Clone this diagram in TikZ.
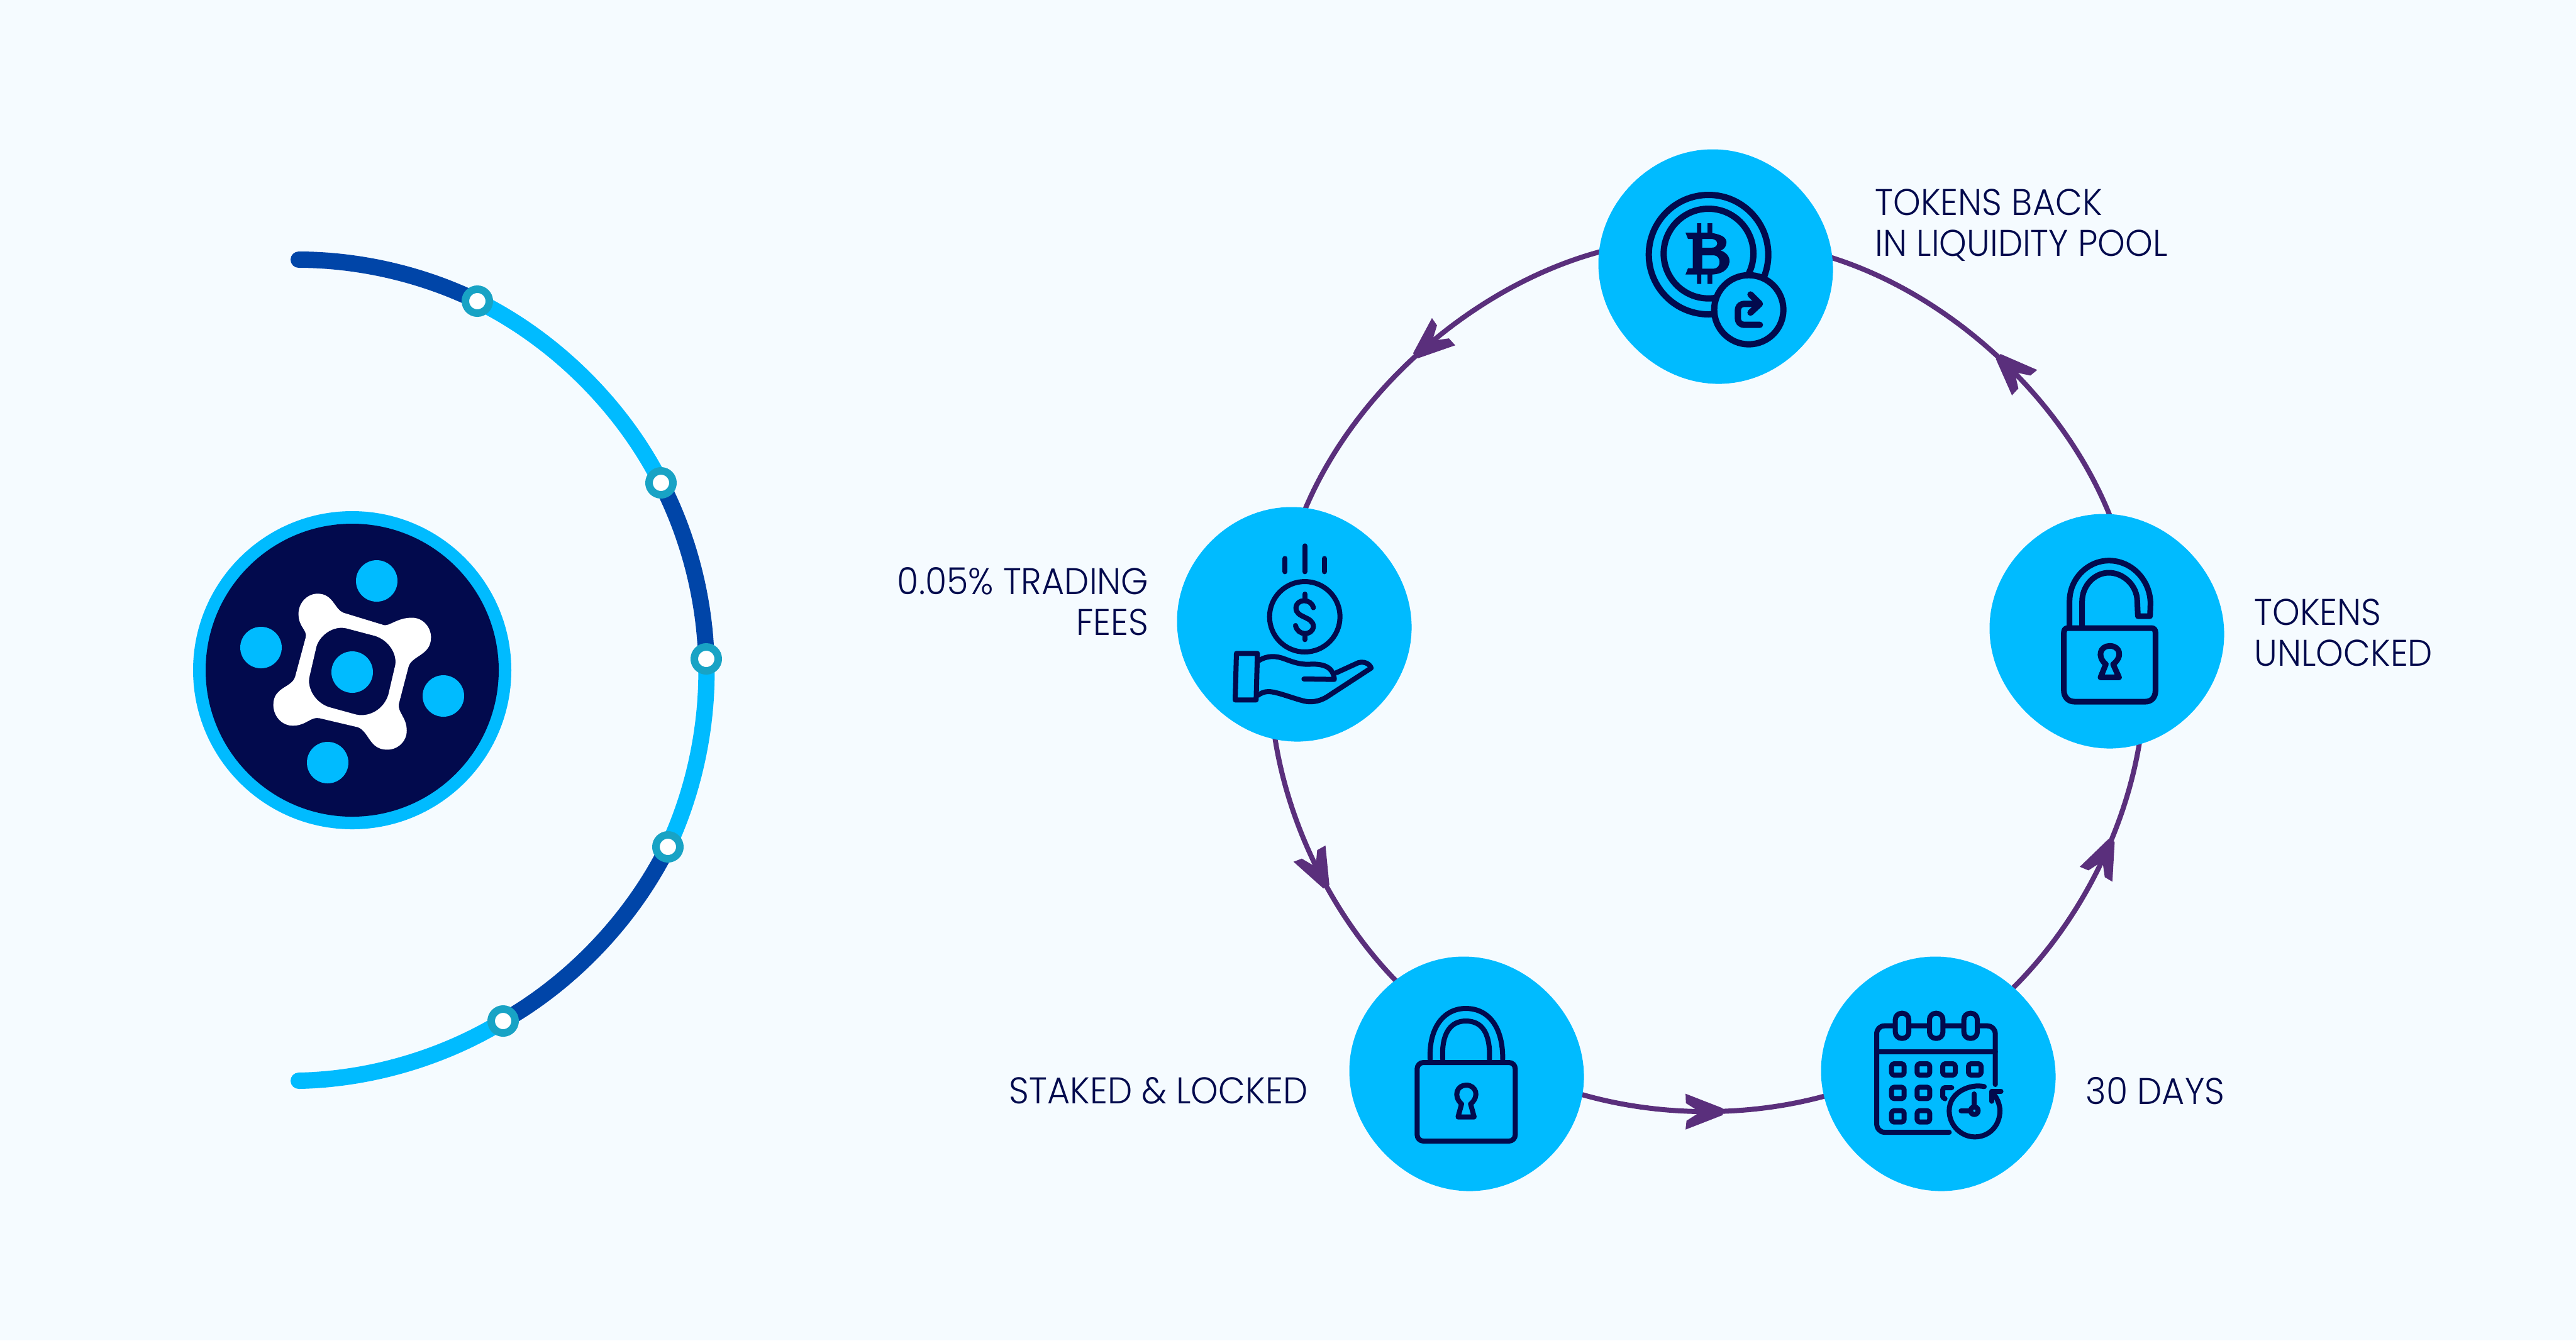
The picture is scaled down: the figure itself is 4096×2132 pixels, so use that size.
\documentclass[tikz,border=0pt]{standalone}
\usepackage{fontspec}
\setmainfont{Poppins}[UprightFont=* Light,FakeStretch=0.94]
\usepackage{xcolor}
\usetikzlibrary{decorations.markings,backgrounds,calc}
\definecolor{bgc}{HTML}{F5FBFF}
\definecolor{skyc}{HTML}{00BBFF}
\definecolor{navyc}{HTML}{020A4D}
\definecolor{deepc}{HTML}{0045A8}
\definecolor{ringc}{HTML}{18A3C5}
\definecolor{linec}{HTML}{5A2F7C}
\tikzset{
  pinnode/.style={circle,draw=ringc,fill=white,line width=0.12cm,minimum size=0.38cm,inner sep=0pt},
  blobnode/.style={circle,minimum size=3.6cm,inner sep=0pt,outer sep=0pt},
  rimdark/.style={line width=0.26cm,draw=deepc},
  rimsky/.style={line width=0.26cm,draw=skyc},
  looplink/.style={line width=0.08cm,draw=linec,looseness=0.85},
  icon/.style={draw=navyc,line width=0.1cm,line cap=round,line join=round},
  caption/.style={font=\fontsize{16.8}{18.5}\selectfont,text=navyc,inner sep=0pt},
  tipat/.style={decoration={markings,mark=at position #1 with {
    \fill[linec] (0,-5) -- (-58,-30) -- (-58,-15) -- (-36,0) -- (-58,13) -- (-60,27) -- (0,6) -- cycle;}},
    postaction={decorate}},
}
\newcommand{\blobat}[1]{\fill[skyc,shift={(#1)}] plot[domain=0:360,samples=121] ({(185.5+cos(4*\x)+2.5*sin(2*\x))*cos(\x)},{(185.5+cos(4*\x)+2.5*sin(2*\x))*sin(\x)}) -- cycle;}
\begin{document}
\begin{tikzpicture}[x=0.01cm,y=-0.01cm,line join=round]
  \useasboundingbox (0,0) rectangle (4096,2132);
  \begin{pgfonlayer}{background}
    \fill[bgc] (0,0) rectangle (4096,2132);
  \end{pgfonlayer}
  % logo
  \fill[skyc] (560,1066) circle (253);
  \fill[navyc] (560,1066) circle (233);
  \begin{scope}[shift={(280,780)},scale=1/2.8]
    \fill[white,even odd rule] (745,545) -- (925,600) .. controls (950,606) and (985,567) .. (1050,567)
      .. controls (1100,567) and (1135,610) .. (1135,655) .. controls (1135,735) and (1050,735) .. (1035,785)
      -- (992,950) .. controls (985,990) and (1027,1010) .. (1027,1070) .. controls (1027,1120) and (985,1155) .. (940,1155)
      .. controls (860,1155) and (860,1075) .. (810,1055) -- (640,1015) .. controls (600,1005) and (580,1048) .. (520,1048)
      .. controls (470,1048) and (433,1005) .. (433,955) .. controls (433,875) and (515,880) .. (530,830)
      -- (577,655) .. controls (585,620) and (545,610) .. (545,550) .. controls (545,500) and (585,460) .. (630,460)
      .. controls (700,460) and (705,530) .. (745,545) -- cycle
      (760,615) -- (885,648) .. controls (950,668) and (990,735) .. (973,790) -- (945,910)
      .. controls (925,975) and (860,1012) .. (800,998) -- (680,965) .. controls (620,945) and (580,880) .. (595,825)
      -- (625,695) .. controls (640,645) and (700,600) .. (760,615) -- cycle;
  \end{scope}
  \foreach \dx/\dy in {599/924,415/1030,705/1107,521/1213,560/1069}
    \fill[skyc] (\dx,\dy) circle (33);
  % outer rim
  \coordinate (R0) at (475,413);
  \coordinate (R6) at (475,1719);
  \node[pinnode] (R1) at (759,479) {};
  \node[pinnode] (R2) at (1051,768) {};
  \node[pinnode] (R3) at (1123,1048) {};
  \node[pinnode] (R4) at (1062,1347) {};
  \node[pinnode] (R5) at (800,1624) {};
  \begin{pgfonlayer}{background}
    \draw[rimdark,line cap=round] (R0) to[bend left=13,looseness=0.85] (R1.center);
    \draw[rimsky] (R1.center) to[bend left=18.5,looseness=0.85] (R2.center);
    \draw[rimdark] (R2.center) to[bend left=12.8,looseness=0.85] (R3.center);
    \draw[rimsky] (R3.center) to[bend left=13.5,looseness=0.85] (R4.center);
    \draw[rimdark] (R4.center) to[bend left=17,looseness=0.85] (R5.center);
    \draw[rimsky,line cap=round] (R5.center) to[bend left=15.2,looseness=0.85] (R6);
  \end{pgfonlayer}
  % ring of steps
  \node[blobnode] (Pool) at (2728,424) {};
  \node[blobnode] (Fees) at (2058,993) {};
  \node[blobnode] (Staked) at (2332,1708) {};
  \node[blobnode] (Days) at (3082,1708) {};
  \node[blobnode] (Unlock) at (3350,1004) {};
  \draw[looplink,tipat=0.53] (Pool.172) to[bend right=26.5] (Fees.85);
  \draw[looplink,tipat=0.57] (Fees.260) to[bend right=18] (Staked.127);
  \draw[looplink,tipat=0.58] (Staked.350) to[bend right=16] (Days.191);
  \draw[looplink,tipat=0.63] (Days.49) to[bend right=18.2] (Unlock.287);
  \draw[looplink,tipat=0.5] (Unlock.88) to[bend right=25.8] (Pool.5);
  \blobat{2728,424}
  \blobat{2058,993}
  \blobat{2332,1708}
  \blobat{3082,1708}
  \blobat{3350,1004}
  % coin icon
  \begin{scope}[shift={(2500,200)},scale=1/3]
    \draw[icon] (650,615) circle (285);
    \draw[icon] (650,610) circle (214);
    \draw[icon,fill=skyc] (842,878) circle (165);
    \fill[navyc,even odd rule] (540,510) -- (595,510) -- (595,465) -- (615,465) -- (615,510) -- (645,510) -- (645,465) -- (668,465) -- (668,512)
      .. controls (715,520) and (738,535) .. (735,560) .. controls (733,580) and (722,590) .. (708,595)
      .. controls (735,605) and (752,625) .. (750,650) .. controls (745,690) and (710,708) .. (668,710)
      -- (668,755) -- (645,755) -- (645,710) -- (615,710) -- (615,755) -- (595,755) -- (595,710) -- (540,710) -- (552,680) -- (575,680) -- (575,540) -- (552,540) -- cycle
      (620,540) -- (665,540) .. controls (700,542) and (700,582) .. (665,582) -- (620,582) -- cycle
      (620,618) -- (675,618) .. controls (712,620) and (712,680) .. (675,682) -- (620,682) -- cycle;
    \draw[icon] (895,950) -- (825,950) .. controls (800,950) and (790,940) .. (790,915) -- (790,885) .. controls (790,860) and (800,850) .. (825,850) -- (890,850);
    \draw[icon] (850,805) -- (895,850) -- (850,892);
  \end{scope}
  % hand and coin icon
  \begin{scope}[shift={(1840,780)},scale=1/3,every path/.append style={icon,line width=0.08cm}]
    \draw (704,603) circle (168);
    \draw (704,265) -- (704,388);
    \draw (610,325) -- (610,388);
    \draw (798,325) -- (798,388);
    \draw (745,560) .. controls (735,515) and (665,515) .. (662,560) .. controls (660,610) and (745,600) .. (745,650) .. controls (740,695) and (670,695) .. (660,645);
    \draw (704,495) -- (704,520);
    \draw (704,690) -- (704,712);
    \draw (378,778) -- (478,778) -- (472,1000) -- (372,1000) -- cycle;
    \draw (485,812) .. controls (530,785) and (570,790) .. (610,805) .. controls (650,820) and (680,830) .. (720,830) .. controls (790,825) and (840,840) .. (845,902) -- (700,900);
    \draw (855,870) -- (960,822) .. controls (1000,812) and (1020,840) .. (1020,848) -- (810,985) .. controls (770,1010) and (730,1012) .. (700,1005) .. controls (640,990) and (570,960) .. (530,960) .. controls (510,960) and (490,970) .. (480,978);
  \end{scope}
  % closed lock icon
  \begin{scope}[shift={(2120,1500)},scale=1/3,every path/.append style={icon,line width=0.08cm}]
    \draw[rounded corners=0.1cm] (400,570) rectangle (868,945);
    \draw (462,555) .. controls (455,400) and (530,312) .. (632,312) .. controls (740,312) and (810,400) .. (808,555);
    \draw (522,555) .. controls (515,430) and (560,372) .. (632,372) .. controls (710,372) and (750,430) .. (745,555);
    \draw (612,768) .. controls (570,730) and (590,678) .. (634,678) .. controls (680,678) and (700,730) .. (655,768) -- (672,830) -- (595,830) -- cycle;
  \end{scope}
  % open lock icon
  \begin{scope}[shift={(3140,800)},scale=1/3,every path/.append style={icon,line width=0.09cm}]
    \draw (445,597) -- (842,597) .. controls (855,597) and (862,605) .. (862,620) -- (862,895) .. controls (862,930) and (840,948) .. (815,948) -- (475,948) .. controls (445,948) and (425,925) .. (425,895) -- (425,620) .. controls (425,605) and (432,597) .. (445,597) -- cycle;
    \draw (452,585) -- (452,470) .. controls (452,360) and (540,275) .. (640,275) .. controls (750,275) and (838,370) .. (838,480) -- (836,540) -- (778,540) -- (775,470) .. controls (775,395) and (710,333) .. (640,333) .. controls (570,333) and (512,395) .. (512,470) -- (512,585);
    \draw (625,770) .. controls (580,730) and (600,682) .. (644,682) .. controls (690,682) and (710,730) .. (660,770) -- (688,832) -- (600,832) -- cycle;
  \end{scope}
  % calendar icon
  \begin{scope}[shift={(2870,1500)},scale=1/3,every path/.append style={icon,line width=0.08cm}]
    \draw (908,675) -- (908,435) .. controls (908,410) and (890,395) .. (870,395) -- (380,395) .. controls (358,395) and (342,410) .. (342,435) -- (342,860) .. controls (342,885) and (358,903) .. (380,903) -- (688,903);
    \draw (342,518) -- (908,518);
    \foreach \cx in {463,626,790}
      \draw[fill=skyc,rounded corners=0.1cm] (\cx-32,335) rectangle (\cx+32,455);
    \foreach \cx in {443,565,687,810}
      \draw[rounded corners=0.04cm] (\cx-30,576) rectangle (\cx+30,630);
    \foreach \cx in {443,565} {
      \draw[rounded corners=0.04cm] (\cx-30,688) rectangle (\cx+30,742);
      \draw[rounded corners=0.04cm] (\cx-30,800) rectangle (\cx+30,854);
    }
    \draw (700,690) -- (668,690) .. controls (660,690) and (657,695) .. (657,702) -- (657,735) -- (668,743);
    \draw (855,685) .. controls (790,670) and (688,710) .. (688,800) .. controls (688,870) and (745,925) .. (810,925) .. controls (880,925) and (930,870) .. (930,800) .. controls (930,770) and (915,735) .. (895,715);
    \draw (935,708) -- (890,708) -- (890,755);
    \draw (808,720) -- (808,782);
    \draw (745,800) -- (790,800);
    \draw (808,800) circle (18);
  \end{scope}
  % captions
  \node[caption,anchor=west,align=left] (PoolText) at (2981,358) {TOKENS BACK\\IN LIQUIDITY POOL};
  \node[caption,anchor=east,align=right] (FeesText) at (1827,957) {0.05\% TRADING\\FEES};
  \node[caption,anchor=east] (StakedText) at (2080,1735) {STAKED \& LOCKED};
  \node[caption,anchor=west] (DaysText) at (3316,1735) {30 DAYS};
  \node[caption,anchor=west,align=left] (UnlockText) at (3584,1006) {TOKENS\\UNLOCKED};
\end{tikzpicture}
\end{document}
